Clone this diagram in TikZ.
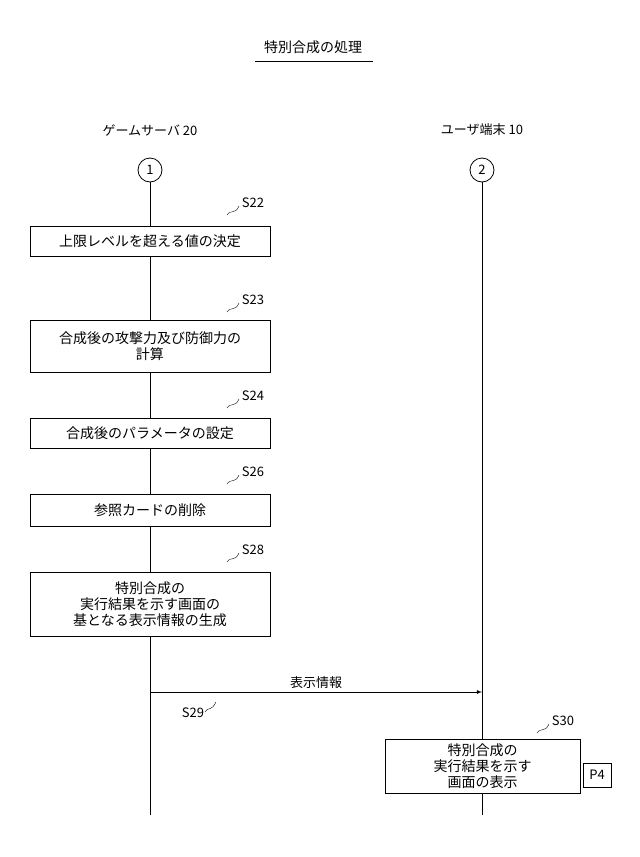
\documentclass[tikz,border=0pt]{standalone}
\usepackage{fontspec}
\setmainfont{Noto Sans CJK JP}
\begin{document}
\begin{tikzpicture}[x=1pt,y=-1pt,
  stepbox/.style={draw,thick,minimum width=240pt,align=center,inner sep=2pt,font=\fontsize{14}{16}\selectfont},
  lbl/.style={font=\fontsize{13}{15}\selectfont},
  sq/.style={thin}]
\useasboundingbox (0,0) rectangle (640,857);
\node[font=\fontsize{14}{16}\selectfont] (title) at (313,47) {特別合成の処理};
\draw (255,61) -- (373,61);
\node[lbl] (h1) at (150,130) {ゲームサーバ 20};
\node[lbl] (h2) at (482,130) {ユーザ端末 10};
\node[draw,thick,circle,minimum size=24pt,inner sep=0pt,lbl] (c1) at (150,170) {1};
\node[draw,thick,circle,minimum size=24pt,inner sep=0pt,lbl] (c2) at (482,170) {2};
\coordinate (e1) at (150,815);
\coordinate (e2) at (482,815);
\draw[thick] (c1) -- (e1);
\draw[thick] (c2) -- (e2);
\node[stepbox,minimum height=30pt,fill=white] (s22) at (150,241) {上限レベルを超える値の決定};
\node[stepbox,minimum height=52pt,fill=white] (s23) at (150,346) {合成後の攻撃力及び防御力の\\計算};
\node[stepbox,minimum height=30pt,fill=white] (s24) at (150,433) {合成後のパラメータの設定};
\node[stepbox,minimum height=32pt,fill=white] (s26) at (150,510) {参照カードの削除};
\node[stepbox,minimum height=64pt,fill=white] (s28) at (150,604) {特別合成の\\実行結果を示す画面の\\基となる表示情報の生成};
\node[stepbox,minimum width=195pt,minimum height=54pt,fill=white] (s30) at (482.5,766) {特別合成の\\実行結果を示す\\画面の表示};
\node[draw,thick,lbl,minimum width=28pt,minimum height=24pt,inner sep=1pt] (p4) at (597,775) {P4};
\foreach \n/\x/\y in {S22/253/203,S23/253/300,S24/253/396,S26/253/472,S28/253/550,S30/563/721}{
  \node[lbl] at (\x,\y) {\n};
  \draw[sq] (\x-26,\y+12) .. controls (\x-22,\y+6) and (\x-18,\y+12) .. (\x-14,\y+3);
}
\coordinate (a1) at (150,692);
\coordinate (a2) at (482,692);
\draw[thick,-latex] (a1) -- (a2) node[midway,above,lbl] {表示情報};
\node[lbl] (s29) at (193,713) {S29};
\draw[sq] (205,712) .. controls (209,706) and (211,712) .. (216,702);
\end{tikzpicture}
\end{document}
